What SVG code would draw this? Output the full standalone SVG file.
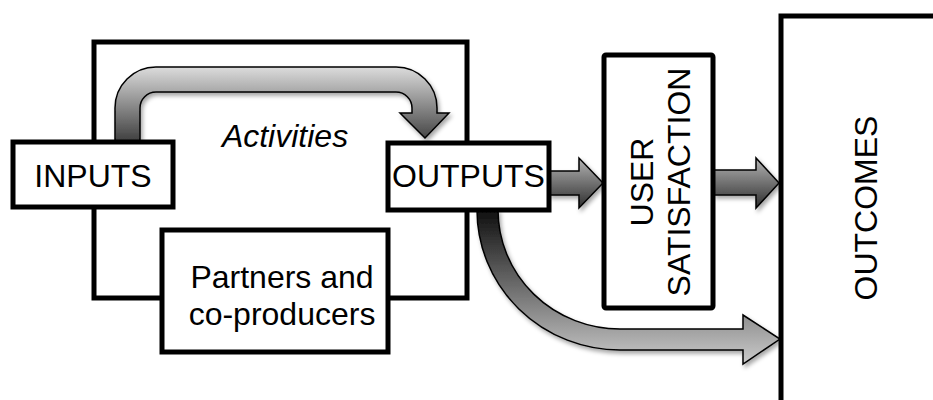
<svg xmlns="http://www.w3.org/2000/svg" width="933" height="400" viewBox="0 0 933 400">
  <style>
    .box { fill: #ffffff; stroke: #000000; stroke-width: 5; }
    .lbl { font-family: "Liberation Sans", Arial, sans-serif; font-size: 32px; fill: #000000; text-anchor: middle; }
    .arr { stroke: #000000; stroke-width: 1.5; stroke-linejoin: miter; filter: url(#shadow); }
  </style>
  <defs>
    <filter id="shadow" x="-20%" y="-20%" width="150%" height="150%">
      <feDropShadow dx="2" dy="3" stdDeviation="2" flood-color="#000000" flood-opacity="0.35"/>
    </filter>
    <linearGradient id="gTop" gradientUnits="userSpaceOnUse" x1="0" y1="67" x2="0" y2="142">
      <stop offset="0" stop-color="#dcdcdc"/>
      <stop offset="1" stop-color="#3e3e3e"/>
    </linearGradient>
    <linearGradient id="gStraight" x1="0" y1="0" x2="0" y2="1">
      <stop offset="0" stop-color="#b4b4b4"/>
      <stop offset="1" stop-color="#2e2e2e"/>
    </linearGradient>
    <linearGradient id="gBottom" gradientUnits="userSpaceOnUse" x1="0" y1="212" x2="0" y2="365">
      <stop offset="0" stop-color="#111111"/>
      <stop offset="1" stop-color="#cccccc"/>
    </linearGradient>
  </defs>

  <g id="activities">
    <rect class="box" x="94" y="42" width="373" height="256"/>
    <text class="lbl" x="285" y="147" font-style="italic" font-size="29">Activities</text>
  </g>

  <g id="connectors">
    <path id="inputs-to-outputs" class="arr" fill="url(#gTop)"
      d="M115,145 L115,108 A41,41 0 0 1 156,67 L396,67 A41,41 0 0 1 437,108 L437,113 L449,113 L425,138 L400,113 L412,113 L412,108 A16,16 0 0 0 396,92 L156,92 A16,16 0 0 0 140,108 L140,145 Z"/>
    <polygon id="outputs-to-satisfaction" class="arr" fill="url(#gStraight)"
      points="549,171 579,171 579,158 603,183 579,208 579,195 549,195"/>
    <polygon id="satisfaction-to-outcomes" class="arr" fill="url(#gStraight)"
      points="714,170 756,170 756,158 779,183 756,208 756,195 714,195"/>
    <path id="outputs-to-outcomes" class="arr" fill="url(#gBottom)"
      d="M477,210 A143,140 0 0 0 620,350 L743,350 L743,364 L780,339 L743,315 L743,329 L620,329 A122,119 0 0 1 498,210 Z"/>
  </g>

  <g id="inputs">
    <rect class="box" x="13" y="142" width="160" height="65"/>
    <text class="lbl" x="93" y="187">INPUTS</text>
  </g>

  <g id="outputs">
    <rect class="box" x="388" y="143" width="161" height="67"/>
    <text class="lbl" x="468.5" y="187">OUTPUTS</text>
  </g>

  <g id="partners">
    <rect class="box" x="162" y="230" width="226" height="122"/>
    <text class="lbl" x="282" y="288">Partners and</text>
    <text class="lbl" x="282" y="325">co-producers</text>
  </g>

  <g id="user-satisfaction">
    <rect class="box" x="604" y="55" width="109" height="253" rx="2"/>
    <text class="lbl" transform="translate(653,182) rotate(-90)">USER</text>
    <text class="lbl" transform="translate(690,182) rotate(-90)">SATISFACTION</text>
  </g>

  <g id="outcomes">
    <rect class="box" x="781" y="16" width="170" height="400"/>
    <text class="lbl" transform="translate(877,208) rotate(-90)">OUTCOMES</text>
  </g>
</svg>
